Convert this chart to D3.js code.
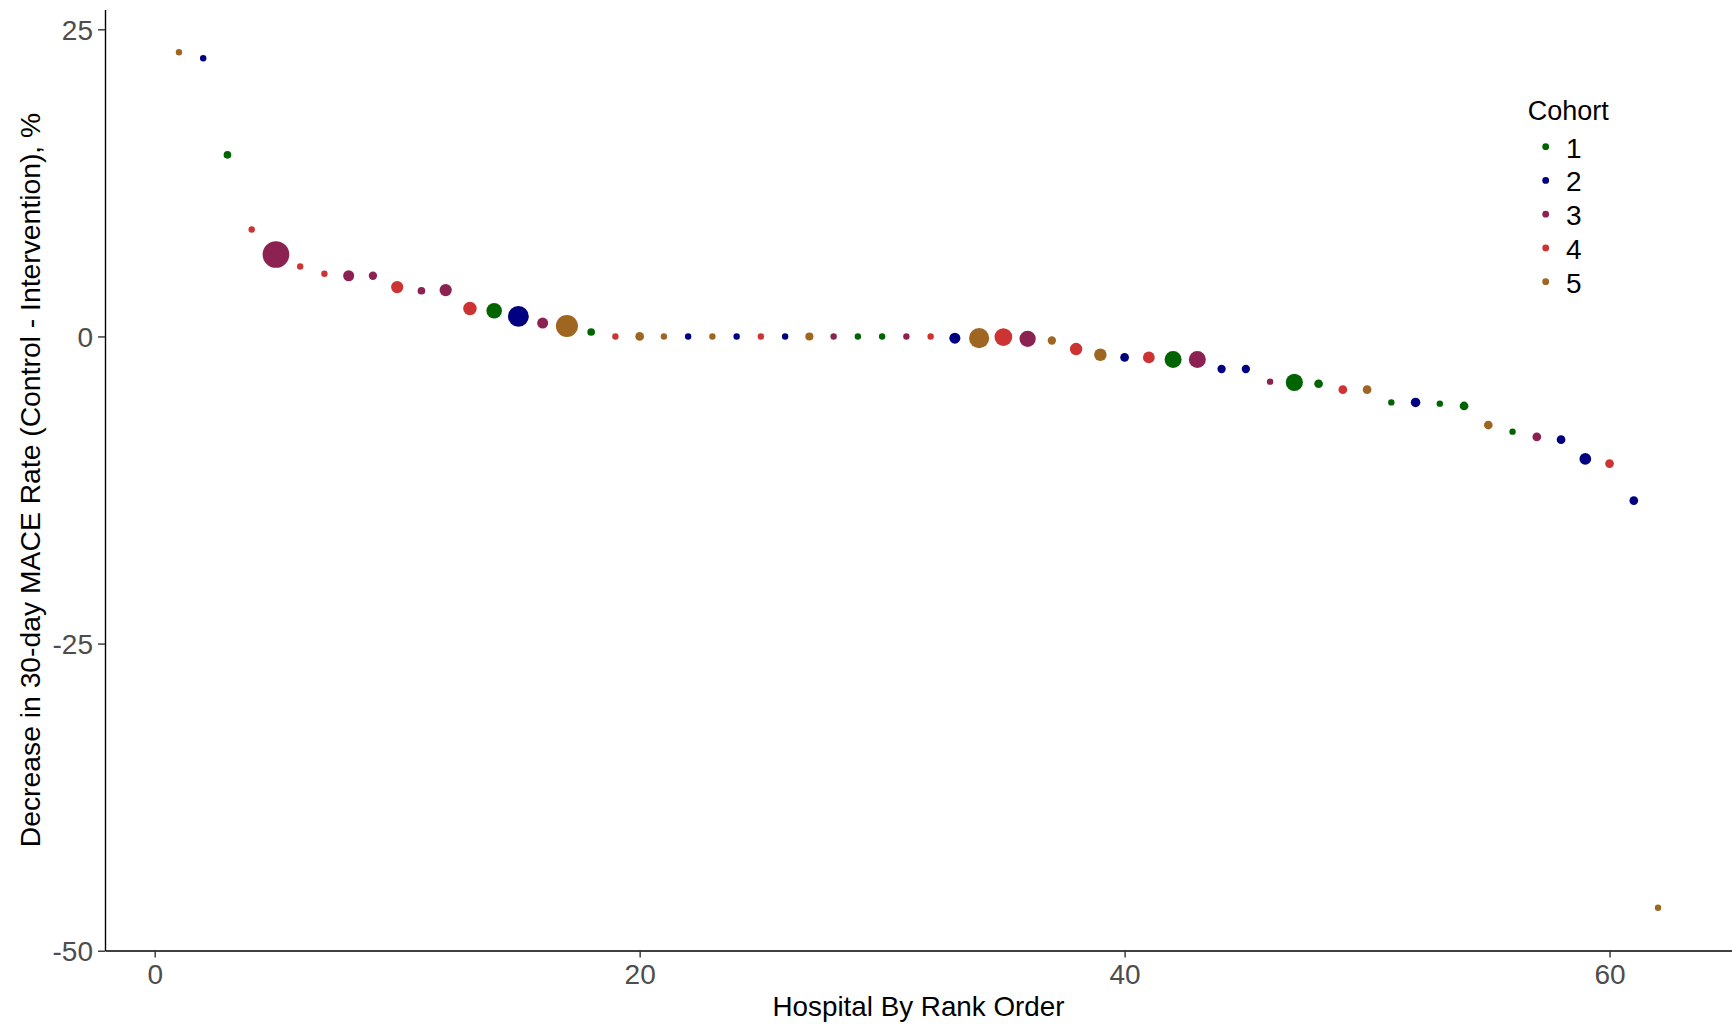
<!DOCTYPE html>
<html>
<head>
<meta charset="utf-8">
<script src="https://cdn.jsdelivr.net/npm/d3@7"></script>
<style>
  html, body { margin: 0; padding: 0; background: #ffffff; }
  svg { display: block; font-family: "Liberation Sans", Arial, sans-serif; }
</style>
</head>
<body>
<svg id="chart" width="1732" height="1024"></svg>
<script>
// Hospitals ordered by their change in 30-day MACE rate
const rank = [
   1,  2,  3,  4,  5,  6,  7,  8,  9, 10,
  11, 12, 13, 14, 15, 16, 17, 18, 19, 20,
  21, 22, 23, 24, 25, 26, 27, 28, 29, 30,
  31, 32, 33, 34, 35, 36, 37, 38, 39, 40,
  41, 42, 43, 44, 45, 46, 47, 48, 49, 50,
  51, 52, 53, 54, 55, 56, 57, 58, 59, 60,
  61, 62
];

// Decrease in 30-day MACE rate (control - intervention), %
const decrease = [
  23.13, 22.64, 14.78,  8.70,  6.67,  5.69,  5.10,  4.94,  4.94,  4.02,
   3.72,  3.77,  2.28,  2.09,  1.63,  1.09,  0.85,  0.36,  0.00,  0.00,
   0.00,  0.00,  0.00,  0.00,  0.00,  0.00,  0.00,  0.00,  0.00,  0.00,
   0.00,  0.00, -0.14, -0.14, -0.05, -0.19, -0.33, -1.03, -1.49, -1.71,
  -1.71, -1.87, -1.87, -2.65, -2.65, -3.68, -3.74, -3.85, -4.33, -4.33,
  -5.37, -5.37, -5.47, -5.66, -7.21, -7.75, -8.18, -8.40, -9.97, -10.35,
 -13.36, -46.50
];

// Cohort each hospital belongs to
const cohort = [
  5, 2, 1, 4, 3, 4, 4, 3, 3, 4,
  3, 3, 4, 1, 2, 3, 5, 1, 4, 5,
  5, 2, 5, 2, 4, 2, 5, 3, 1, 1,
  3, 4, 2, 5, 4, 3, 5, 4, 5, 2,
  4, 1, 3, 2, 2, 3, 1, 1, 4, 5,
  1, 2, 1, 1, 5, 1, 3, 2, 2, 4,
  2, 5
];

// Relative hospital volume (marker area)
const volume = [
   0,   0,  0.4,  0, 100,  0,   0,  5.2,  0.9,  8.4,
   0.4, 8.4, 12.4, 20.2, 50.4, 5.2, 59.7, 0.4, 0,  1.3,
   0,   0,   0,    0,    0,   0,   0.7, 0,   0,   0,
   0,   0,   5.2,  45.7, 31.4, 23.3, 0.9, 9.0, 9.0, 1.3,
   7.0, 27.2, 27.2, 0.9, 0.9, 0,   28.0, 1.3, 1.3, 1.3,
   0,   2.4, 0,    1.3,  1.3, 0,   1.3,  1.3, 7.0, 1.3,
   1.3, 0
];

const cohortLabels = ["1", "2", "3", "4", "5"];
const cohortColors = ["#006400", "#000080", "#8B2252", "#CD3333", "#9E6620"];

const xTicks = [0, 20, 40, 60];
const yTicks = [-50, -25, 0, 25];

const xTitle = "Hospital By Rank Order";
const yTitle = "Decrease in 30-day MACE Rate (Control - Intervention), %";
const legendTitle = "Cohort";

const points = rank.map((r, i) => ({
  rank: r, value: decrease[i], cohort: cohort[i], volume: volume[i]
}));

const svg = d3.select("#chart");

const panel = { left: 105, right: 1732, top: 9.5, bottom: 950.5 };

// 5% padding around the data range on both axes
function padded(ext) {
  const p = (ext[1] - ext[0]) * 0.05;
  return [ext[0] - p, ext[1] + p];
}

const x = d3.scaleLinear()
  .domain(padded(d3.extent(rank)))
  .range([panel.left, panel.right]);

const y = d3.scaleLinear()
  .domain(padded(d3.extent(decrease)))
  .range([panel.bottom, panel.top]);

const r = d3.scaleSqrt().domain([0, 100]).range([3.2, 13.35]);

const color = d3.scaleOrdinal().domain([1, 2, 3, 4, 5]).range(cohortColors);

// Axes (plain hyphen for negative labels)
const fontSize = 28;
const plain = d => String(d);

const yAxis = svg.append("g")
  .attr("transform", `translate(${panel.left},0)`)
  .call(d3.axisLeft(y).tickValues(yTicks).tickFormat(plain)
    .tickSize(7).tickSizeOuter(0).tickPadding(5));

const xAxis = svg.append("g")
  .attr("transform", `translate(0,${panel.bottom})`)
  .call(d3.axisBottom(x).tickValues(xTicks).tickFormat(plain)
    .tickSize(7).tickSizeOuter(0).tickPadding(6.5));

[xAxis, yAxis].forEach(g => {
  g.select(".domain").attr("stroke", "#000000").attr("stroke-width", 1.4);
  g.selectAll(".tick line").attr("stroke", "#333333").attr("stroke-width", 1.4);
  g.selectAll(".tick text")
    .attr("fill", "#4D4D4D")
    .style("font-size", fontSize + "px")
    .style("font-family", "'Liberation Sans', Arial, sans-serif");
});
yAxis.selectAll(".tick text").attr("dy", "0.36em");

// Points
svg.append("g")
  .selectAll("circle")
  .data(points)
  .join("circle")
  .attr("cx", d => x(d.rank))
  .attr("cy", d => y(d.value))
  .attr("r", d => r(d.volume))
  .attr("fill", d => color(d.cohort));

// Axis titles
svg.append("text")
  .attr("x", (panel.left + panel.right) / 2)
  .attr("y", 1016)
  .attr("text-anchor", "middle")
  .attr("fill", "#000000")
  .style("font-size", "27.8px")
  .text(xTitle);

svg.append("text")
  .attr("transform", `translate(39.5,${(panel.top + panel.bottom) / 2}) rotate(-90)`)
  .attr("text-anchor", "middle")
  .attr("fill", "#000000")
  .style("font-size", "28.3px")
  .text(yTitle);

// Legend
const legend = svg.append("g");
legend.append("text")
  .attr("x", 1527.7)
  .attr("y", 120)
  .attr("fill", "#000000")
  .style("font-size", "27px")
  .text(legendTitle);

const keyY = d3.scalePoint().domain(cohortLabels).range([146.7, 281.7]);

const item = legend.selectAll("g.item")
  .data(cohortLabels)
  .join("g")
  .attr("class", "item")
  .attr("transform", d => `translate(0,${keyY(d)})`);

item.append("circle")
  .attr("cx", 1545.7)
  .attr("cy", 0)
  .attr("r", 3.4)
  .attr("fill", (d, i) => cohortColors[i]);

item.append("text")
  .attr("x", 1566)
  .attr("y", 11)
  .attr("fill", "#000000")
  .style("font-size", "28px")
  .text(d => d);
</script>
</body>
</html>
